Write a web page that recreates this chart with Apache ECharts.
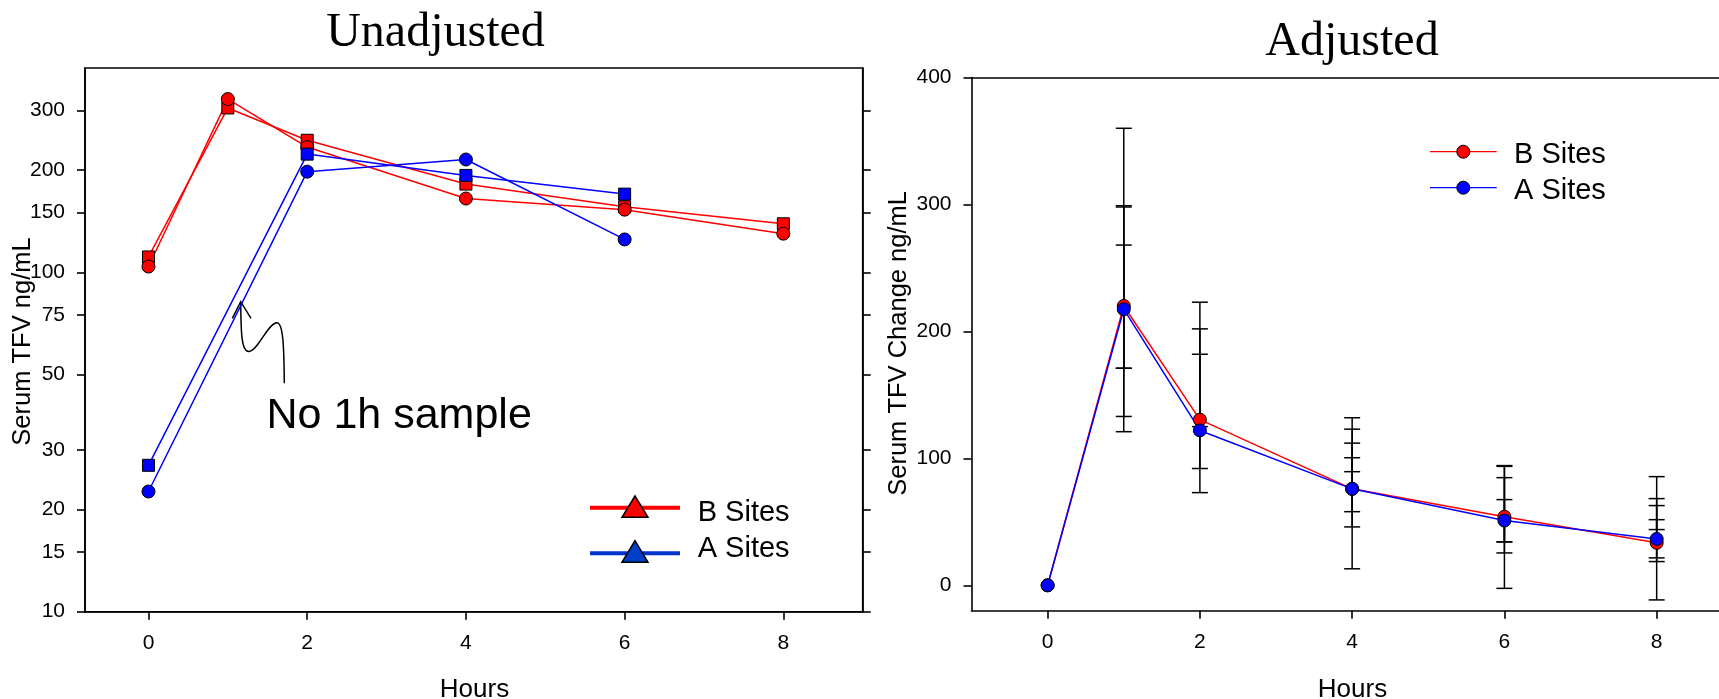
<!DOCTYPE html>
<html>
<head>
<meta charset="utf-8">
<title>Serum TFV</title>
<script src="https://cdn.jsdelivr.net/npm/echarts@6/dist/echarts.min.js"></script>
<style>
  html, body { margin: 0; padding: 0; background: #fff; }
  #chart { width: 1719px; height: 699px; }
</style>
</head>
<body>
<div id="chart"></div>
<script>
// Sampling times (hours after dose)
const hours = [0, 1, 2, 4, 6, 8];

// Unadjusted serum TFV, ng/mL (null = no sample taken)
const bSitesCircle = [104, 324, 234, 165, 153, 130];
const bSitesSquare = [111, 305, 245, 182, 156, 139];
const aSitesCircle = [22.6, null, 198, 215, 125, null];
const aSitesSquare = [27, null, 223, 193, 170, null];

// Adjusted: change from baseline, ng/mL
const bSitesAdj = [0, 220, 130.5, 76, 54, 33.5];
const aSitesAdj = [0, 217.5, 122, 76, 51, 36.5];

// Error bars on the adjusted panel: [hour, low, high]
const adjErrorBars = [
  [1, 121, 360], [1, 133, 299], [1, 171, 298], [1, 171, 268],
  [2, 73, 223], [2, 92, 202], [2, 125, 182],
  [4, 13, 132], [4, 46, 123], [4, 58, 112], [4, 89.5, 100.5],
  [6, -2.4, 94.3], [6, 25.5, 93.7], [6, 34.2, 84.8], [6, 34.2, 67.5],
  [8, -11.5, 85.6], [8, 18.7, 68.3], [8, 21.6, 62.8], [8, 43.9, 51.7]
];

// Tick values
const hourTicks = [0, 2, 4, 6, 8];
const logTicks = [10, 15, 20, 30, 50, 75, 100, 150, 200, 300];
const adjTicks = [0, 100, 200, 300, 400];

const SANS = '"Liberation Sans", Arial, Helvetica, sans-serif';
const SERIF = '"Liberation Serif", "Times New Roman", serif';
const RED = '#ff0000';
const BLUE = '#0000ff';
const TICK_FONT = 21;

function pairs(values) {
  const out = [];
  hours.forEach((h, i) => { if (values[i] != null) out.push([h, values[i]]); });
  return out;
}

function lineSeries(name, values, color, symbol, size, xi, yi) {
  return {
    type: 'line', name, xAxisIndex: xi, yAxisIndex: yi,
    data: pairs(values),
    symbol, symbolSize: size, showAllSymbol: true,
    lineStyle: { color, width: 1.5 },
    itemStyle: { color, borderColor: '#000', borderWidth: 1 },
    emphasis: { disabled: true },
    z: 3
  };
}

const axisLineStyle = { color: '#000', width: 1.6 };

function hourAxis(gridIndex, min) {
  return {
    type: 'value', gridIndex, min, max: 9,
    axisLine: { show: true, onZero: false, lineStyle: axisLineStyle },
    axisTick: { show: true, inside: false, length: 8, customValues: hourTicks, lineStyle: axisLineStyle },
    axisLabel: { customValues: hourTicks, fontFamily: SANS, fontSize: TICK_FONT, color: '#000', margin: 21 },
    splitLine: { show: false }
  };
}

const chart = echarts.init(document.getElementById('chart'), null, { renderer: 'canvas' });

chart.setOption({
  animation: false,
  backgroundColor: '#fff',
  grid: [
    { left: 85, top: 68, right: 856.3, bottom: 87.3, show: true, borderColor: '#000', borderWidth: 1.6, backgroundColor: 'transparent', outerBoundsMode: 'none' },
    { left: 971.5, top: 77.5, right: -13.8, bottom: 88.3, show: false, outerBoundsMode: 'none' }
  ],
  xAxis: [
    hourAxis(0, -0.8),
    hourAxis(1, -1),
    // top frame line of the adjusted panel
    {
      type: 'value', gridIndex: 1, min: -1, max: 9, position: 'top',
      axisLine: { show: true, onZero: false, lineStyle: axisLineStyle },
      axisTick: { show: false }, axisLabel: { show: false }, splitLine: { show: false }
    }
  ],
  yAxis: [
    {
      type: 'log', logBase: 10, gridIndex: 0, min: 10, max: 400,
      axisLine: { show: true, onZero: false, lineStyle: axisLineStyle },
      axisTick: { show: true, inside: false, length: 8, customValues: logTicks, lineStyle: axisLineStyle },
      axisLabel: { customValues: logTicks, fontFamily: SANS, fontSize: TICK_FONT, color: '#000', margin: 20 },
      splitLine: { show: false }, minorTick: { show: false }
    },
    {
      type: 'log', logBase: 10, gridIndex: 0, min: 10, max: 400, position: 'right',
      axisLine: { show: true, onZero: false, lineStyle: axisLineStyle },
      axisTick: { show: true, inside: false, length: 8, customValues: logTicks, lineStyle: axisLineStyle },
      axisLabel: { show: false, customValues: logTicks },
      splitLine: { show: false }, minorTick: { show: false }
    },
    {
      type: 'value', gridIndex: 1, min: -20, max: 400,
      axisLine: { show: true, onZero: false, lineStyle: axisLineStyle },
      axisTick: { show: true, inside: false, length: 8, customValues: adjTicks, lineStyle: axisLineStyle },
      axisLabel: { customValues: adjTicks, fontFamily: SANS, fontSize: TICK_FONT, color: '#000', margin: 20 },
      splitLine: { show: false }
    }
  ],
  series: [
    lineSeries('B Sites', bSitesSquare, RED, 'rect', 12, 0, 0),
    lineSeries('B Sites', bSitesCircle, RED, 'circle', 13, 0, 0),
    lineSeries('A Sites', aSitesSquare, BLUE, 'rect', 12, 0, 0),
    lineSeries('A Sites', aSitesCircle, BLUE, 'circle', 13, 0, 0),
    {
      type: 'custom', name: 'error', xAxisIndex: 1, yAxisIndex: 2,
      data: adjErrorBars,
      encode: { x: 0, y: [1, 2] },
      z: 2,
      renderItem: function (params, api) {
        const x = api.value(0);
        const lo = api.coord([x, api.value(1)]);
        const hi = api.coord([x, api.value(2)]);
        const w = 8;
        const st = { stroke: '#000', lineWidth: 1.5 };
        return {
          type: 'group',
          children: [
            { type: 'line', shape: { x1: lo[0], y1: lo[1], x2: hi[0], y2: hi[1] }, style: st },
            { type: 'line', shape: { x1: lo[0] - w, y1: lo[1], x2: lo[0] + w, y2: lo[1] }, style: st },
            { type: 'line', shape: { x1: hi[0] - w, y1: hi[1], x2: hi[0] + w, y2: hi[1] }, style: st }
          ]
        };
      }
    },
    lineSeries('B Sites', bSitesAdj, RED, 'circle', 13, 1, 2),
    lineSeries('A Sites', aSitesAdj, BLUE, 'circle', 13, 1, 2)
  ],
  graphic: [
    // panel titles
    { type: 'text', x: 435.5, y: 33.5, style: { text: 'Unadjusted', font: '48px ' + SERIF, fill: '#000', textAlign: 'center', textVerticalAlign: 'middle' } },
    { type: 'text', x: 1352, y: 42.5, style: { text: 'Adjusted', font: '48px ' + SERIF, fill: '#000', textAlign: 'center', textVerticalAlign: 'middle' } },
    // axis titles
    { type: 'text', x: 23.3, y: 341.5, rotation: Math.PI / 2, style: { text: 'Serum TFV ng/mL', font: '25.5px ' + SANS, fill: '#000', textAlign: 'center', textVerticalAlign: 'middle' } },
    { type: 'text', x: 899, y: 343.4, rotation: Math.PI / 2, style: { text: 'Serum TFV Change ng/mL', font: '25.5px ' + SANS, fill: '#000', textAlign: 'center', textVerticalAlign: 'middle' } },
    { type: 'text', x: 474.5, y: 689.5, style: { text: 'Hours', font: '26px ' + SANS, fill: '#000', textAlign: 'center', textVerticalAlign: 'middle' } },
    { type: 'text', x: 1352.5, y: 689.5, style: { text: 'Hours', font: '26px ' + SANS, fill: '#000', textAlign: 'center', textVerticalAlign: 'middle' } },
    // note on the missing 1 h sample, with a hand-drawn pointer
    { type: 'text', x: 266.5, y: 416.5, style: { text: 'No 1h sample', font: '43px ' + SANS, fill: '#000', textAlign: 'left', textVerticalAlign: 'middle' } },
    { type: 'bezierCurve', shape: { x1: 284.3, y1: 383.3, cpx1: 284, cpy1: 345, cpx2: 283, cpy2: 323, x2: 277, y2: 322.7 }, style: { stroke: '#000', lineWidth: 1.5, fill: null } },
    { type: 'bezierCurve', shape: { x1: 277, y1: 322.7, cpx1: 268, cpy1: 322.5, cpx2: 258, cpy2: 351, x2: 249, y2: 351.5 }, style: { stroke: '#000', lineWidth: 1.5, fill: null } },
    { type: 'bezierCurve', shape: { x1: 249, y1: 351.5, cpx1: 241, cpy1: 352, cpx2: 241, cpy2: 330, x2: 240.7, y2: 301.7 }, style: { stroke: '#000', lineWidth: 1.5, fill: null } },
    { type: 'polyline', shape: { points: [[232.3, 318.3], [240.7, 301.7], [251, 318.3]] }, style: { stroke: '#000', lineWidth: 1.5, fill: null } },
    // key, unadjusted panel
    { type: 'line', shape: { x1: 590, y1: 507.7, x2: 680, y2: 507.7 }, style: { stroke: RED, lineWidth: 4 } },
    { type: 'polygon', shape: { points: [[635, 496], [622, 517.3], [648, 517.3]] }, style: { fill: RED, stroke: '#000', lineWidth: 1.5 } },
    { type: 'text', x: 697.7, y: 513, style: { text: 'B Sites', font: '29px ' + SANS, fill: '#000', textVerticalAlign: 'middle' } },
    { type: 'line', shape: { x1: 590, y1: 553.3, x2: 680, y2: 553.3 }, style: { stroke: '#0033cc', lineWidth: 4 } },
    { type: 'polygon', shape: { points: [[635, 540.7], [622, 562.3], [648, 562.3]] }, style: { fill: '#0040c8', stroke: '#000', lineWidth: 1.5 } },
    { type: 'text', x: 697.7, y: 548.5, style: { text: 'A Sites', font: '29px ' + SANS, fill: '#000', textVerticalAlign: 'middle' } },
    // key, adjusted panel
    { type: 'line', shape: { x1: 1430, y1: 151.7, x2: 1496.7, y2: 151.7 }, style: { stroke: RED, lineWidth: 1.2 } },
    { type: 'circle', shape: { cx: 1463.3, cy: 151.7, r: 6.5 }, style: { fill: RED, stroke: '#000', lineWidth: 1 } },
    { type: 'text', x: 1514, y: 154.5, style: { text: 'B Sites', font: '29px ' + SANS, fill: '#000', textVerticalAlign: 'middle' } },
    { type: 'line', shape: { x1: 1430, y1: 187.7, x2: 1496.7, y2: 187.7 }, style: { stroke: BLUE, lineWidth: 1.2 } },
    { type: 'circle', shape: { cx: 1463.3, cy: 187.7, r: 6.5 }, style: { fill: BLUE, stroke: '#000', lineWidth: 1 } },
    { type: 'text', x: 1514, y: 190.5, style: { text: 'A Sites', font: '29px ' + SANS, fill: '#000', textVerticalAlign: 'middle' } }
  ]
});
</script>
</body>
</html>
